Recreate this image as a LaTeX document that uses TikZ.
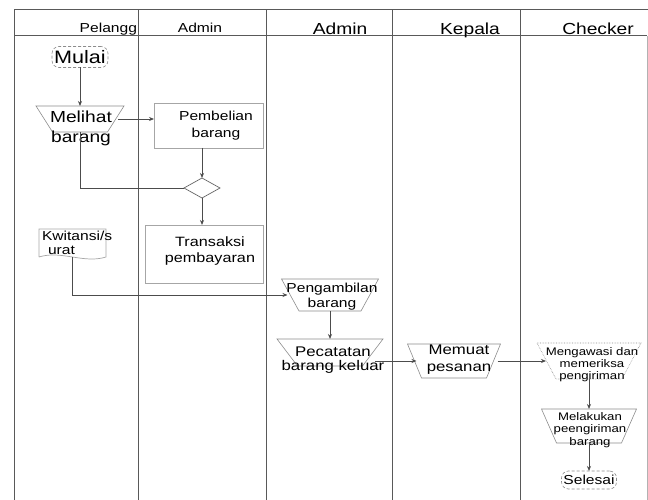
\documentclass[tikz,border=0pt]{standalone}
\usepackage{fontspec}
\setmainfont{Liberation Sans}[FakeStretch=1.2]
\usetikzlibrary{shapes.geometric,arrows.meta,calc}

\begin{document}
\begin{tikzpicture}[x=1pt,y=-1pt,
    every node/.style={inner sep=0pt,outer sep=0pt},
    lane/.style={draw=black!65,line width=1pt},
    proses/.style={draw=black!35,line width=0.7pt},
    manual/.style={draw=black!45,line width=0.6pt},
    terminal/.style={draw=black!45,densely dashed,rounded corners=7pt,line width=0.6pt},
    keputusan/.style={diamond,draw=black!60,line width=0.7pt,minimum width=36pt,minimum height=20pt},
    alur/.style={draw=black!70,line width=0.8pt,-{Stealth[length=5pt,width=4pt]}},
    garis/.style={draw=black!70,line width=0.8pt},
    teks/.style={align=center},
  ]
  \useasboundingbox (0,0) rectangle (648,500);
  \foreach \x in {14,138,266,392,520}
    \draw[lane] (\x,10) -- (\x,500);
  \draw[draw=black!30,line width=0.8pt] (647,36) -- (647,500);
  \draw[lane] (14,10) -- (648,10);
  \draw[lane] (14,36) -- (647,36);

  \node[anchor=base east,font=\fontsize{13}{15}\selectfont] (h1) at (137,33) {Pelangg};
  \node[anchor=base,font=\fontsize{13}{15}\selectfont] (h2) at (200,33) {Admin};
  \foreach \x/\t [count=\i from 3] in {340/Admin,470/Kepala,598/Checker}
    \node[anchor=base,font=\fontsize{16}{18}\selectfont] (h\i) at (\x,35) {\t};

  \node[terminal,minimum width=56pt,minimum height=21pt,font=\fontsize{18}{20}\selectfont] (mulai) at (80,57) {Mulai};
  \node[minimum width=88pt,minimum height=26pt] (melihat) at (80,119) {};
  \node[draw=black!35,line width=0.7pt,minimum width=109pt,minimum height=45pt] (pemb) at (208.5,125.5) {};
  \node[keputusan] (cek) at (202,188) {};
  \node[proses,draw,minimum width=118pt,minimum height=58pt] (trans) at (204,254) {};
  \node[minimum width=67pt,minimum height=28pt] (kwit) at (72.5,243) {};
  \draw[proses] (kwit.south west) -- (kwit.north west) -- (kwit.north east) -- (kwit.south east)
    .. controls ($(kwit.south east)+(-22,7)$) and ($(kwit.south west)+(22,-7)$) .. (kwit.south west);
  \node[minimum width=97pt,minimum height=32pt] (pengam) at (330,295) {};
  \node[minimum width=106pt,minimum height=27pt] (pecat) at (330,352.5) {};
  \node[minimum width=93pt,minimum height=34pt] (memuat) at (454,361) {};
  \node[minimum width=104pt,minimum height=36pt] (awasi) at (589,361) {};
  \node[minimum width=95pt,minimum height=34pt] (kirim) at (589,426) {};
  \node[terminal,minimum width=55pt,minimum height=18pt,font=\fontsize{13}{15}\selectfont] (selesai) at (589,480) {Selesai};
  \foreach \n/\d/\s in {melihat/16.5/solid,pengam/17.5/solid,pecat/20.5/solid,
      memuat/14/solid,awasi/19/densely dotted,kirim/15/solid}
    \draw[manual,\s] (\n.north west) -- (\n.north east) -- ($(\n.south east)+(-\d,0)$)
      -- ($(\n.south west)+(\d,0)$) -- cycle;

  \node[teks,font=\fontsize{16}{20}\selectfont] (melihat-t) at (81,128) {Melihat\\barang};
  \node[teks,font=\fontsize{13}{17}\selectfont] (pemb-t) at (216,126) {Pembelian\\barang};
  \node[teks,font=\fontsize{13.5}{16}\selectfont] (trans-t) at (210,251.5) {Transaksi\\pembayaran};
  \node[align=left,anchor=west,font=\fontsize{13}{14}\selectfont] (kwit-t) at ([xshift=3pt]kwit.west) {Kwitansi/s\\\hspace*{6pt}urat};
  \node[teks,font=\fontsize{13}{14.5}\selectfont] (pengam-t) at (332,296.7) {Pengambilan\\barang};
  \node[teks,font=\fontsize{14}{14}\selectfont] (pecat-t) at (333,360.5) {Pecatatan\\barang keluar};
  \node[teks,font=\fontsize{14}{17}\selectfont] (memuat-t) at (459,360) {Memuat\\pesanan};
  \node[teks,font=\fontsize{11}{12}\selectfont] (awasi-t) at (592,365) {Mengawasi dan\\memeriksa\\pengiriman};
  \node[teks,font=\fontsize{11}{12.5}\selectfont] (kirim-t) at (590,430) {Melakukan\\peengiriman\\barang};

  \draw[alur] (mulai) -- (melihat);
  \draw[alur] ($(melihat.east)+(-6,0)$) -- (melihat.east -| pemb.west);
  \draw[garis] (melihat.south) |- (cek.west);
  \draw[alur] (pemb.south -| cek) -- (cek);
  \draw[alur] (cek) -- (cek |- trans.north);
  \draw[alur] (kwit.south) |- ($(pengam.west)+(6,0)$);
  \draw[alur] (pengam) -- (pecat);
  \draw[alur] ($(pecat.east |- memuat)+(-8,0)$) -- ($(memuat.west)+(9,0)$);
  \draw[alur] ($(memuat.east)+(-3,0)$) -- ($(memuat.east -| awasi.west)+(9,0)$);
  \draw[alur] (awasi) -- (kirim);
  \draw[alur] (kirim) -- (selesai);
\end{tikzpicture}
\end{document}
